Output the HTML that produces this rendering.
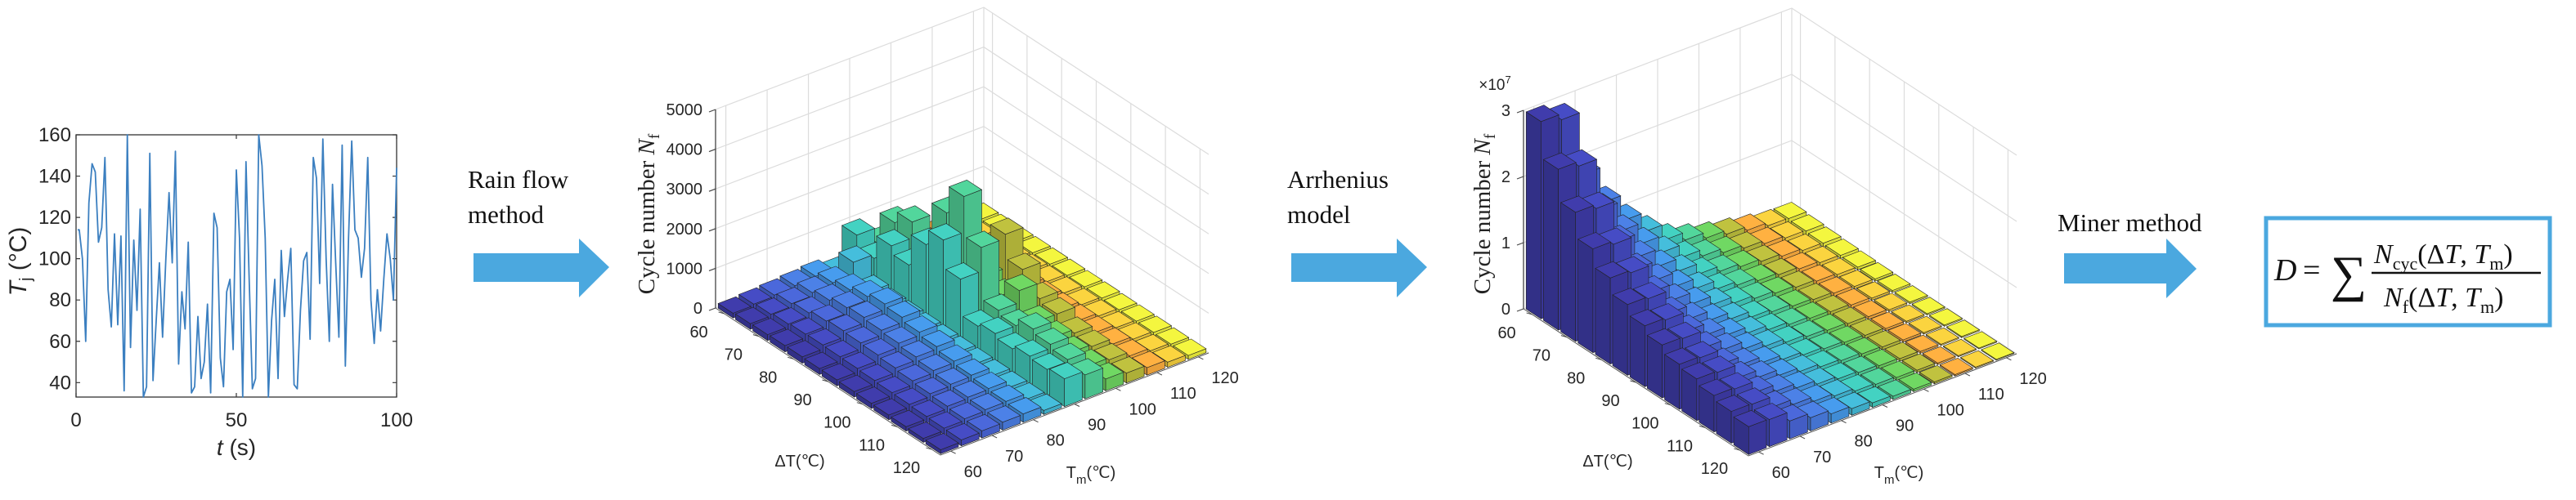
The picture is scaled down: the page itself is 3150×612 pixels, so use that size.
<!DOCTYPE html>
<html><head><meta charset="utf-8"><style>
html,body{margin:0;padding:0;background:#fff}
svg{display:block}
text{font-family:"Liberation Sans",sans-serif}
.serif{font-family:"Liberation Serif",serif}
</style></head><body>
<svg id="root" width="3150" height="612" viewBox="0 0 3150 612" xmlns="http://www.w3.org/2000/svg">
<g id="lineChart"></g>
<g>
 <text class="serif" x="572" y="230" font-size="31" fill="#111">Rain flow</text>
 <text class="serif" x="572" y="273" font-size="31" fill="#111">method</text>
 <polygon points="579,310 708,310 708,292 745,327 708,364 708,345 579,345" fill="#4ba8df"/>
</g>
<g id="chart2"></g>
<g>
 <text class="serif" x="1574" y="230" font-size="31" fill="#111">Arrhenius</text>
 <text class="serif" x="1574" y="273" font-size="31" fill="#111">model</text>
 <polygon points="1579,310 1708,310 1708,292 1745,327 1708,364 1708,345 1579,345" fill="#4ba8df"/>
</g>
<g id="chart3"></g>
<g>
 <text class="serif" x="2516" y="283" font-size="31" fill="#111">Miner method</text>
 <polygon points="2524,310 2649,310 2649,292 2686,329 2649,365 2649,347 2524,347" fill="#4ba8df"/>
</g>
<g>
 <rect x="2771" y="267" width="347" height="131" fill="#fff" stroke="#4ba8df" stroke-width="5"/>
 <text class="serif" x="2781" y="343" font-size="38" font-style="italic" fill="#111">D</text>
 <text class="serif" x="2816" y="343" font-size="38" fill="#111">=</text>
 <text class="serif" x="2850" y="356" font-size="62" fill="#111">∑</text>
 <text class="serif" x="2903" y="322" font-size="34" fill="#111"><tspan font-style="italic">N</tspan><tspan font-size="22" dy="8">cyc</tspan><tspan dy="-8">(Δ</tspan><tspan font-style="italic">T</tspan><tspan>, </tspan><tspan font-style="italic">T</tspan><tspan font-size="22" dy="8">m</tspan><tspan dy="-8">)</tspan></text>
 <line x1="2900" y1="334" x2="3107" y2="334" stroke="#111" stroke-width="2.5"/>
 <text class="serif" x="2915" y="375" font-size="34" fill="#111"><tspan font-style="italic">N</tspan><tspan font-size="22" dy="8">f</tspan><tspan dy="-8">(Δ</tspan><tspan font-style="italic">T</tspan><tspan>, </tspan><tspan font-style="italic">T</tspan><tspan font-size="22" dy="8">m</tspan><tspan dy="-8">)</tspan></text>
</g>
</svg>
<script>
// ---------- data: junction temperature time series ----------
const tjTimes = [0.5,1,2,3,4,5,6,7,8,9,10,11,12,13,14,15,16,17,18,19,20,21,22,23,24,25,26,27,28,29,30,31,32,33,34,35,36,37,38,39,40,41,42,43,44,45,46,47,48,49,50,51,52,53,54,55,56,57,58,59,60,61,62,63,64,65,66,67,68,69,70,71,72,73,74,75,76,77,78,79,80,81,82,83,84,85,86,87,88,89,90,91,92,93,94,95,96,97,98,99,100];
const tjValues = [114,114,100,60,127,146,142,108,115,149,85,67,112,68,111,36,160,57,109,75,124,33,38,151,41,70,98,62,100,132,98,152,49,84,66,108,35,38,72,42,50,78,35,122,115,52,38,84,90,56,143,110,33,147,90,37,42,160,145,110,33,70,90,42,104,72,90,105,39,37,75,99,103,61,149,139,88,158,100,60,136,98,62,155,48,110,157,114,110,91,105,149,80,59,85,65,90,112,100,80,144];
const tjYTicks = [40,60,80,100,120,140,160];
const tjXTicks = [0,50,100];

// ---------- data: 3D bar charts ----------
const deltaTBins = [60,65,70,75,80,85,90,95,100,105,110,115,120];
const tmBins = [60,65,70,75,80,85,90,95,100,105,110,115,120];
const axisTickLabels = ['60','70','80','90','100','110','120'];
const cycleZTicks = [0,1000,2000,3000,4000,5000];
const failureZTicks = [0,1,2,3];
// rain-flow cycle counts, rows = ΔT bins, cols = Tm bins
const cycleCounts = [
 [120,150,180,220,260,150, 900, 500,200,150,150,130,110],
 [140,180,250,330,380,700, 600,1300,400,200,180,140,110],
 [150,220,300,420,480,250,1200,1600,500,250,200,150,120],
 [160,250,380,520,600,200,1000,1200,600,300,220,150,120],
 [160,260,420,560,700,180,1800,2400,800,600,250,160,120],
 [150,250,400,520,650,160,2200,3100,900,1750,260,160,120],
 [150,240,380,480,560,150,1500,2100,700,1150,250,160,120],
 [140,220,340,420,480,140, 600, 800,1100,700,240,150,120],
 [130,200,300,360,400,130, 700, 700,600,600,230,150,110],
 [120,190,260,300,330,120, 600, 900,500,400,220,140,110],
 [110,170,230,260,280,110, 700, 800,400,350,210,140,110],
 [100,160,200,230,240,100, 650, 700,350,300,200,130,100],
 [100,150,180,200,210,100, 700, 600,300,250,190,130,100]
];
// cycles to failure (×10^6), rows = ΔT bins, cols = Tm bins
const failureCycles = [
 [29.8,28.9,19.4,14.0,10.1,7.2,4.8,3.6,2.7,2.1,1.5,1.0,0.9],
 [24.3,23.6,15.8,11.4,8.3,5.8,3.9,2.9,2.2,1.7,1.2,0.85,0.73],
 [19.5,18.9,12.7,9.2,6.6,4.7,3.1,2.3,1.8,1.4,1.0,0.68,0.59],
 [15.7,15.2,10.2,7.4,5.3,3.8,2.5,1.9,1.4,1.1,0.79,0.55,0.47],
 [13.0,12.6,8.5,6.1,4.4,3.1,2.1,1.6,1.2,0.91,0.65,0.46,0.39],
 [10.7,10.4,7.0,5.0,3.6,2.6,1.7,1.3,0.96,0.75,0.54,0.37,0.32],
 [9.2,8.9,6.0,4.3,3.1,2.2,1.5,1.1,0.83,0.64,0.46,0.32,0.28],
 [8.0,7.8,5.2,3.8,2.7,1.9,1.3,0.96,0.72,0.56,0.40,0.28,0.24],
 [6.8,6.6,4.4,3.2,2.3,1.6,1.1,0.82,0.61,0.48,0.34,0.24,0.20],
 [6.3,6.1,4.1,3.0,2.1,1.5,1.0,0.76,0.57,0.44,0.32,0.22,0.19],
 [5.5,5.3,3.6,2.6,1.9,1.3,0.88,0.66,0.50,0.39,0.28,0.19,0.17],
 [4.8,4.7,3.1,2.3,1.6,1.2,0.77,0.58,0.43,0.34,0.24,0.17,0.14],
 [4.2,4.1,2.7,2.0,1.4,1.0,0.67,0.50,0.38,0.29,0.21,0.15,0.13]
];

const NS='http://www.w3.org/2000/svg';
function mk(tag, attrs, parent){const e=document.createElementNS(NS,tag);for(const k in attrs)e.setAttribute(k,attrs[k]);parent.appendChild(e);return e;}

// ---------- line chart ----------
(function(){
 const g=document.getElementById('lineChart');
 const X0=93,X1=485,Y0=165,Y1=486,ymin=33,ymax=160;
 const sx=t=>X0+(t-0)/(100-0)*(X1-X0);
 const sy=v=>Y1-(v-ymin)/(ymax-ymin)*(Y1-Y0);
 const frame=mk('rect',{x:X0,y:Y0,width:X1-X0,height:Y1-Y0,fill:'#fff',stroke:'#333','stroke-width':1.3},g);
 
 
 tjYTicks.forEach(v=>{
  const y=sy(v);
  const tk=mk('path',{d:`M${X0} ${y}h5M${X1} ${y}h-5`,stroke:'#333','stroke-width':1.2},g);
  
  
  const t=mk('text',{x:X0-6,y:y+8,'text-anchor':'end','font-size':24,fill:'#262626'},g);t.textContent=v;
  
  
 });
 tjXTicks.forEach(v=>{
  const x=sx(v);
  const tk=mk('path',{d:`M${x} ${Y1}v-5M${x} ${Y0}v5`,stroke:'#333','stroke-width':1.2},g);
  
  
  const t=mk('text',{x:x,y:522,'text-anchor':'middle','font-size':24,fill:'#262626'},g);t.textContent=v;
  
  
 });
 const d=tjTimes.map((t,i)=>(i?'L':'M')+sx(t).toFixed(1)+' '+sy(tjValues[i]).toFixed(1)).join('');
 const ln=mk('path',{d:d,fill:'none',stroke:'#3b7fc0','stroke-width':1.8,'stroke-linejoin':'round'},g);
 
 
 const xl=mk('text',{x:289,y:557,'text-anchor':'middle','font-size':28,fill:'#262626'},g);
 xl.innerHTML='<tspan font-style="italic">t</tspan> (s)';
 
 
 const yl=mk('text',{x:0,y:0,'text-anchor':'middle','font-size':30,fill:'#262626',transform:'translate(32,320) rotate(-90)'},g);
 yl.innerHTML='<tspan font-style="italic">T</tspan><tspan font-size="20" dy="6">j</tspan><tspan dy="-6"> (°C)</tspan>';
 
 
})();

// ---------- 3D bars ----------
const palette=['#3b389f','#4146b6','#4560cb','#4677d6','#4290dc','#40b0cc','#3ec2b4','#4cc690','#68c85c','#b2b43a','#efa43c','#e8c43a','#e2e43a'];
function shade(hex,f){const n=parseInt(hex.slice(1),16);let r=n>>16,g=(n>>8)&255,b=n&255;const c=v=>Math.max(0,Math.min(255,Math.round(v*f)));return `rgb(${c(r)},${c(g)},${c(b)})`;}

function draw3D(gid, Lx, Ly, data, zmax, zticks, zfmt, zTitleX){
 const g=document.getElementById(gid);
 const n=deltaTBins.length;
 const ex=[275/n,180/n], ey=[328/n,-125/n], H=243;
 const P=(u,v,z)=>[Lx+u*ex[0]+v*ey[0], Ly+u*ex[1]+v*ey[1]-z/zmax*H];
 const pts=a=>a.map(p=>p[0].toFixed(1)+','+p[1].toFixed(1)).join(' ');
 zticks.forEach(z=>{
  const a=P(0,0,z),b=P(0,n,z),c=P(n,n,z);
  const l=mk('polyline',{points:pts([a,b,c]),fill:'none',stroke:'#dcdcdc','stroke-width':1.2},g);
  
  
 });
 for(let k=0;k<n;k+=2){
  const v=k+0.5;
  const l1=mk('line',{x1:P(0,v,0)[0],y1:P(0,v,0)[1],x2:P(0,v,zmax)[0],y2:P(0,v,zmax)[1],stroke:'#dcdcdc','stroke-width':1.2},g);
  
  
  const l2=mk('line',{x1:P(v,n,0)[0],y1:P(v,n,0)[1],x2:P(v,n,zmax)[0],y2:P(v,n,zmax)[1],stroke:'#dcdcdc','stroke-width':1.2},g);
  
  
 }
 const bk=mk('line',{x1:P(0,n,0)[0],y1:P(0,n,0)[1],x2:P(0,n,zmax)[0],y2:P(0,n,zmax)[1],stroke:'#dcdcdc','stroke-width':1.2},g);
 
 
 const fl=mk('polyline',{points:pts([P(0,0,0),P(n,0,0),P(n,n,0)]),fill:'none',stroke:'#555','stroke-width':1},g);
 
 
 const cells=[];
 for(let i=0;i<n;i++)for(let j=0;j<n;j++)cells.push([i,j]);
 cells.sort((a,b)=>(a[0]-a[1])-(b[0]-b[1]) || (a[0]-b[0]));
 const pad=0.07;
 cells.forEach(([i,j])=>{
  const h=data[i][j];
  const u0=i+pad,u1=i+1-pad,v0=j+pad,v1=j+1-pad;
  const col=palette[j];
  const bar=mk('g',{},g);
  
  
  mk('polygon',{points:pts([P(u0,v0,0),P(u1,v0,0),P(u1,v0,h),P(u0,v0,h)]),fill:shade(col,0.85),stroke:'#222','stroke-width':0.6},bar);
  mk('polygon',{points:pts([P(u1,v0,0),P(u1,v1,0),P(u1,v1,h),P(u1,v0,h)]),fill:shade(col,0.97),stroke:'#222','stroke-width':0.6},bar);
  mk('polygon',{points:pts([P(u0,v0,h),P(u1,v0,h),P(u1,v1,h),P(u0,v1,h)]),fill:shade(col,1.08),stroke:'#222','stroke-width':0.6},bar);
 });
 const za=mk('line',{x1:Lx,y1:Ly,x2:Lx,y2:P(0,0,zmax)[1],stroke:'#444','stroke-width':1.3},g);
 
 
 zticks.forEach(z=>{
  const p=P(0,0,z);
  const tk=mk('line',{x1:p[0]-8,y1:p[1]+3,x2:p[0],y2:p[1],stroke:'#444','stroke-width':1.2},g);
  
  
  const t=mk('text',{x:p[0]-16,y:p[1]+7,'text-anchor':'end','font-size':20,fill:'#262626'},g);
  t.textContent=zfmt(z);
  
  
 });
 axisTickLabels.forEach((lab,k)=>{
  const c=2*k+0.5;
  const p=P(c,0,0);
  const t=mk('text',{x:p[0]-31,y:p[1]+29,'text-anchor':'middle','font-size':20,fill:'#262626'},g);
  t.textContent=lab;
  
  
  const q=P(n,c,0);
  const t2=mk('text',{x:q[0]+16,y:q[1]+32,'text-anchor':'start','font-size':20,fill:'#262626'},g);
  t2.textContent=lab;
  
  
  const tk=mk('path',{d:`M${p[0]} ${p[1]}l-7 -2M${q[0]} ${q[1]}l6 3`,stroke:'#444','stroke-width':1},g);
  
  
 });
 const dx=Lx-875;
 const at=mk('text',{x:978+dx,y:571,'text-anchor':'middle','font-size':20,fill:'#262626'},g);
 at.textContent='ΔT(℃)';
 
 
 const tm=mk('text',{x:1334+dx,y:585,'text-anchor':'middle','font-size':20,fill:'#262626'},g);
 tm.innerHTML='T<tspan font-size="15" dy="7">m</tspan><tspan dy="-7">(℃)</tspan>';
 
 
 const zt=mk('text',{x:0,y:0,'text-anchor':'middle','font-size':29,fill:'#222',class:'serif',transform:`translate(${zTitleX},262) rotate(-90)`},g);
 zt.innerHTML='Cycle number <tspan font-style="italic">N</tspan><tspan font-size="19" dy="6">f</tspan>';
 
 
}
draw3D('chart2',875,377,cycleCounts,5000,cycleZTicks,z=>String(z),800);
draw3D('chart3',1863,378,failureCycles,30,failureZTicks.map(v=>v*10),z=>String(z/10),1822);
(function(){
 const g=document.getElementById('chart3');
 const t=mk('text',{x:1828,y:110,'text-anchor':'middle','font-size':19,fill:'#262626'},g);
 t.innerHTML='×10<tspan font-size="13" dy="-8">7</tspan>';
 
 
})();
</script>
</body></html>
